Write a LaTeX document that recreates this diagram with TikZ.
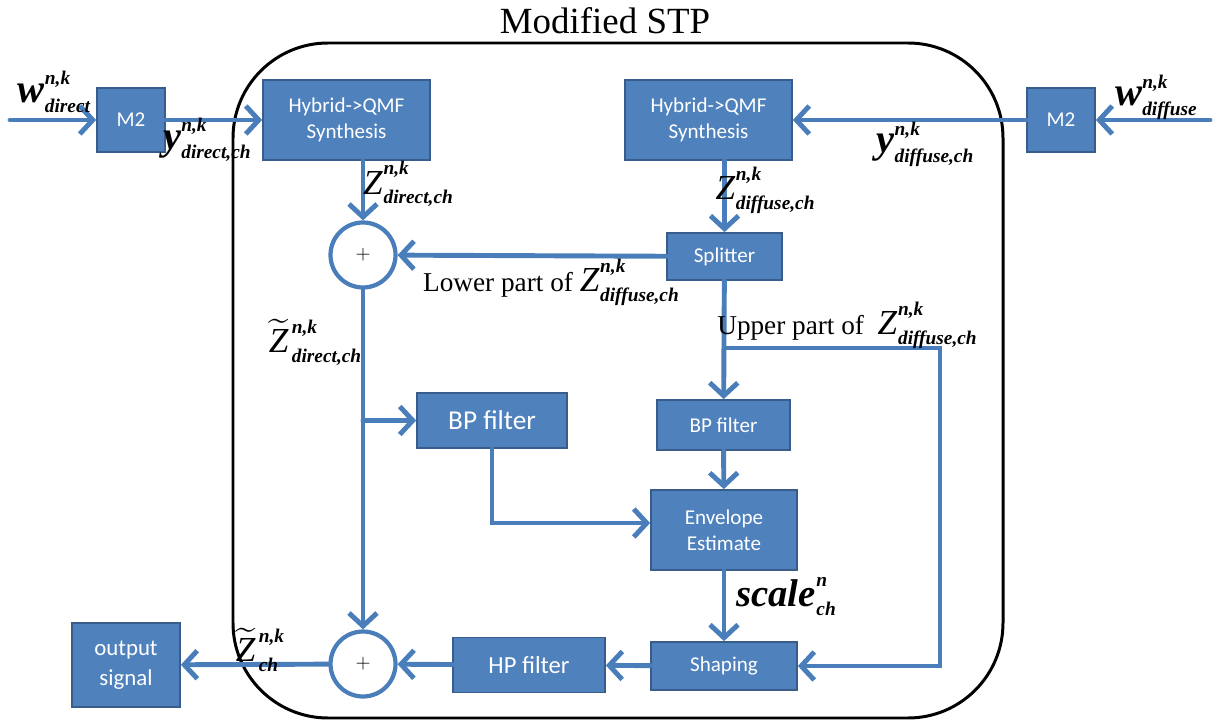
\documentclass[tikz,border=0pt]{standalone}
\usepackage{amsmath}
\usepackage{fontspec}
\setmainfont{Liberation Serif}
\newfontfamily\boxfont{Carlito}
\usetikzlibrary{arrows.meta}
\usetikzlibrary{positioning}
\definecolor{boxblue}{RGB}{79,129,189}
\definecolor{boxedge}{RGB}{56,93,138}
\definecolor{lineblue}{RGB}{74,126,187}
% signal names: [kern], nucleus, raise of the upper index, upper index, lower index
\newcommand{\lblscr}{\fontsize{11}{11}\selectfont\bfseries\itshape}
\newcommand{\sig}[5][0.5pt]{{#2}\kern#1\rlap{\raisebox{#3}{\lblscr #4}}\raisebox{-5.5pt}{\lblscr #5}}
\newcommand{\bigZ}{\fontsize{20}{20}\selectfont\itshape Z}
\newcommand{\tildeZ}{\fontsize{20}{20}\selectfont$\widetilde{\text{\itshape Z}}$}
\newcommand{\bw}[1]{\fontsize{23}{23}\selectfont\bfseries\itshape #1}
\tikzset{
	blk/.style={draw=boxedge, line width=1pt, fill=boxblue, text=white, align=center,
		inner sep=0pt, font=\boxfont\fontsize{12}{15}\selectfont},
	sumnode/.style={circle, draw=lineblue, line width=2.4pt, fill=white,
		minimum size=1.3cm, inner sep=0pt, font=\fontsize{11}{12}\selectfont},
	flow/.style={draw=lineblue, line width=2.8pt, line cap=round,
		-{Straight Barb[length=2.6mm, width=5.6mm, line width=2.8pt]}},
	lbl/.style={font=\fontsize{15.5}{18}\selectfont, inner sep=1pt}
}

\begin{document}
\begin{tikzpicture}
	\useasboundingbox (0,0) rectangle (24.5,-14.44);
	% enclosure
	\draw[line width=1.7pt, rounded corners=1.9cm] (4.66,-0.86) rectangle (20.06,-14.36);
	\node[font=\fontsize{21}{24}\selectfont] (title) at (12.1,-0.42) {Modified STP};
	% blocks
	\node[blk, minimum width=1.36cm, minimum height=1.28cm] (m2l) at (2.62,-2.4) {M2};
	\node[blk, minimum width=3.34cm, minimum height=1.6cm] (hybl) at (6.93,-2.4) {Hybrid-{}>QMF\\Synthesis};
	\node[blk, minimum width=3.34cm, minimum height=1.6cm] (hybr) at (14.17,-2.4) {Hybrid-{}>QMF\\Synthesis};
	\node[blk, minimum width=1.36cm, minimum height=1.28cm] (m2r) at (21.22,-2.4) {M2};
	\node[blk, minimum width=2.3cm, minimum height=0.94cm] (split) at (14.49,-5.13) {Splitter};
	\node[sumnode] (sum1) at (7.26,-5.1) {$+$};
	\node[blk, minimum width=3.0cm, minimum height=1.1cm, font=\boxfont\fontsize{15.5}{18}\selectfont] (bpl) at (9.84,-8.41) {BP filter};
	\node[blk, minimum width=2.66cm, minimum height=1.0cm] (bpr) at (14.47,-8.5) {BP filter};
	\node[blk, minimum width=2.92cm, minimum height=1.6cm] (env) at (14.48,-10.6) {Envelope\\Estimate};
	\node[blk, minimum width=2.92cm, minimum height=0.96cm] (shape) at (14.48,-13.32) {Shaping};
	\node[blk, minimum width=3.04cm, minimum height=1.1cm, font=\boxfont\fontsize{14}{16}\selectfont] (hp) at (10.58,-13.3) {HP filter};
	\node[sumnode] (sum2) at (7.26,-13.28) {$+$};
	\node[blk, minimum width=2.16cm, minimum height=1.68cm, font=\boxfont\fontsize{13}{17}\selectfont] (out) at (2.52,-13.3) {output\\signal};
	% free ends and bends
	\coordinate (inl) at (0.2,-2.4);
	\coordinate (inr) at (24.2,-2.4);
	\coordinate (up) at (14.49,-6.96);
	\coordinate (upc) at (18.8,-6.96);
	\coordinate (upd) at (18.8,-13.32);
	\coordinate (tap) at (7.26,-8.41);
	\coordinate (bpc) at (9.84,-10.46);
	% connectors
	\draw[flow] (inl) -- (m2l);
	\draw[flow] (m2l) -- (hybl);
	\draw[flow] (inr) -- (m2r);
	\draw[flow] (m2r) -- (hybr);
	\draw[flow] (hybl.south -| sum1) -- (sum1);
	\draw[flow] (hybr.south -| split) -- (split);
	\draw[flow] (split) -- (sum1);
	\draw[flow] (split) -- (bpr);
	\draw[flow] (up) -- (upc) -- (upd) -- (shape);
	\draw[flow] (sum1) -- (sum2);
	\draw[flow] (tap) -- (bpl);
	\draw[flow] (bpl) -- (bpc) -- (env.west |- bpc);
	\draw[flow] (bpr) -- (env);
	\draw[flow] (env) -- (shape);
	\draw[flow] (shape) -- (hp);
	\draw[flow] (hp) -- (sum2);
	\draw[flow] (sum2) -- (out);
	% labels
	\node[lbl] (wd) at (1.08,-1.84) {\sig[0pt]{\bw{w}}{10pt}{n,k}{direct}};
	\node[lbl] (yd) at (4.14,-2.8) {\sig[0pt]{\bw{y}}{10pt}{n,k}{direct,ch}};
	\node[lbl] (wf) at (23.12,-1.94) {\sig[0pt]{\bw{w}}{10pt}{n,k}{diffuse}};
	\node[lbl] (yf) at (18.5,-2.88) {\sig[0pt]{\bw{y}}{10pt}{n,k}{diffuse,ch}};
	\node[lbl] (zd) at (8.16,-3.68) {\sig{\bigZ}{11pt}{n,k}{direct,ch}};
	\node[lbl] (zf) at (15.3,-3.8) {\sig{\bigZ}{11pt}{n,k}{diffuse,ch}};
	\node[lbl] (lower) at (11.02,-5.64) {Lower part of \sig{\bigZ}{11pt}{n,k}{diffuse,ch}};
	\node[lbl] (upper) at (16.94,-6.5) {Upper part of \ \sig{\bigZ}{11pt}{n,k}{diffuse,ch}};
	\node[lbl] (ztd) at (6.3,-6.84) {\sig[2pt]{\tildeZ}{11pt}{n,k}{direct,ch}};
	\node[lbl] (sc) at (15.72,-11.94) {\sig{\fontsize{22}{22}\selectfont\bfseries\itshape scale}{11pt}{n}{ch}};
	\node[lbl] (ztc) at (5.14,-13.0) {\sig[2pt]{\tildeZ}{11pt}{n,k}{ch}};
\end{tikzpicture}
\end{document}
